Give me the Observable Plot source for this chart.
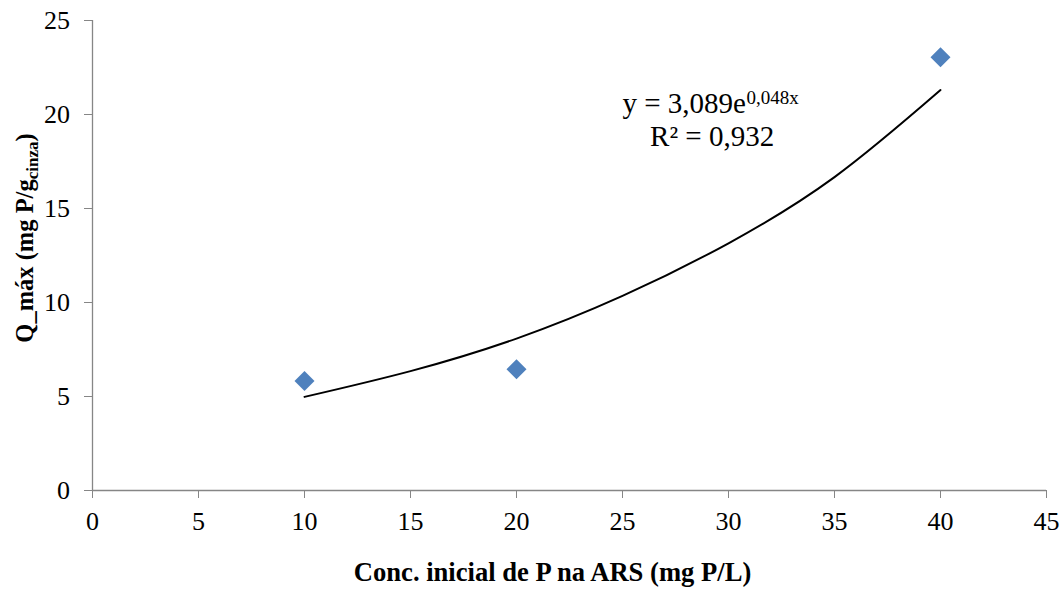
<!DOCTYPE html>
<html>
<head>
<meta charset="utf-8">
<script src="https://cdn.jsdelivr.net/npm/d3@7"></script>
<script src="https://cdn.jsdelivr.net/npm/@observablehq/plot@0.6"></script>
<style>
  html, body { margin: 0; padding: 0; background: #fff; }
  #chart svg { display: block; background: #fff; }
</style>
</head>
<body>
<div id="chart"></div>
<script>
// ---- data ----
const conc = [10, 20, 40];                 // Conc. inicial de P (mg P/L)
const qmax = [5.82, 6.45, 23.05];          // Q_máx (mg P/g cinza)
const trendConc = [10, 15, 20, 25, 30, 35, 40];
const trendQ    = [4.98, 6.35, 8.08, 10.35, 13.15, 16.67, 21.3];
const xTicks = [0, 5, 10, 15, 20, 25, 30, 35, 40, 45];
const yTicks = [0, 5, 10, 15, 20, 25];
const eqMain = "y = 3,089e";
const eqExp = "0,048x";
const eqR2 = "R² = 0,932";
const xTitle = "Conc. inicial de P na ARS (mg P/L)";
const yTitleMain = "Q_máx (mg P/g";
const yTitleSub = "cinza";
const yTitleEnd = ")";

const points = conc.map((c, i) => ({c, q: qmax[i]}));
const trend = trendConc.map((c, i) => ({c, q: trendQ[i]}));

const axisGray = "#868686";
const font = "Liberation Serif";

const chart = Plot.plot({
  width: 1063,
  height: 590,
  marginLeft: 92,
  marginRight: 17,
  marginTop: 20,
  marginBottom: 100,
  x: {domain: [0, 45]},
  y: {domain: [0, 25]},
  marks: [
    Plot.ruleX([0], {stroke: axisGray, strokeWidth: 1.3}),
    Plot.ruleY([0], {stroke: axisGray, strokeWidth: 1.3}),
    Plot.axisX({ticks: xTicks, tickSize: 8, tickPadding: 13.5, stroke: axisGray, fill: "black", label: null, fontSize: 26, fontFamily: font}),
    Plot.axisY({ticks: yTicks, tickSize: 8, tickPadding: 14.5, stroke: axisGray, fill: "black", label: null, fontSize: 26, fontFamily: font}),
    Plot.line(trend, {x: "c", y: "q", curve: "natural", stroke: "black", strokeWidth: 2}),
    Plot.dot(points, {x: "c", y: "q", symbol: "diamond2", r: 9, fill: "#4F81BD", stroke: "none"}),
    Plot.text([eqMain], {x: 25, y: 20.1, text: d => d, textAnchor: "start", lineAnchor: "bottom", fontSize: 29, fontFamily: font, fill: "black"}),
    Plot.text([eqExp], {x: 25, y: 20.1, text: d => d, textAnchor: "start", lineAnchor: "bottom", fontSize: 19, fontFamily: font, dx: 124, dy: -9, fill: "black"}),
    Plot.text([eqR2], {x: 26.3, y: 18.35, text: d => d, textAnchor: "start", lineAnchor: "bottom", fontSize: 29, fontFamily: font, fill: "black"}),
    Plot.text([xTitle], {frameAnchor: "bottom", text: d => d, dx: -17, dy: 90, lineAnchor: "bottom", fontSize: 26.6, fontFamily: font, fontWeight: "bold", fill: "black"})
  ]
});

document.getElementById("chart").appendChild(chart);

// y-axis title with subscript
const svg = d3.select(chart);
const yt = svg.append("text")
  .attr("transform", "translate(33,238) rotate(-90)")
  .attr("text-anchor", "middle")
  .attr("font-family", font)
  .attr("font-size", 24.5)
  .attr("font-weight", "bold")
  .attr("fill", "black");
yt.append("tspan").text(yTitleMain);
yt.append("tspan").attr("font-size", 17).attr("dy", 5).text(yTitleSub);
yt.append("tspan").attr("dy", -5).text(yTitleEnd);

svg.selectAll("text, tspan").style("font-family", "'Liberation Serif'");
</script>
</body>
</html>
